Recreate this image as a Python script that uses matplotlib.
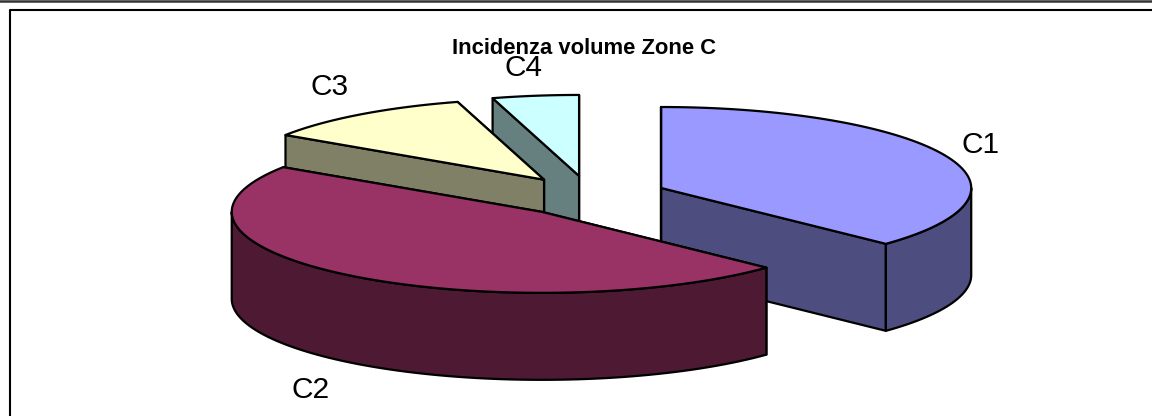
import numpy as np
import matplotlib
matplotlib.use("Agg")
import matplotlib.pyplot as plt
from matplotlib.patches import Polygon

plt.rcParams['font.family'] = ['Liberation Sans', 'DejaVu Sans']

# dati
labels = ["C1", "C2", "C3", "C4"]
values = [37.1, 47.2, 11.2, 4.5]
top_colors = ["#9999FF", "#993366", "#FFFFCC", "#CCFFFF"]
side_colors = ["#4D4D80", "#4D1933", "#808066", "#668080"]
title = "Incidenza volume Zone C"

# geometria in pixel
CX, CY = 590, 196
RX, RY = 310, 81
DEPTH = 87
EXPLODE = 0.25
LW = 1.6


def arc(cx, cy, t1, t2, n=80):
    t = np.radians(np.linspace(t1, t2, n))
    return np.column_stack([cx + RX * np.sin(t), cy - RY * np.cos(t)])


def draw_slice(ax, t1, t2, top, side, z):
    mid = np.radians((t1 + t2) / 2)
    cx = CX + EXPLODE * RX * np.sin(mid)
    cy = CY - EXPLODE * RY * np.cos(mid)
    apex = np.array([cx, cy])
    down = np.array([0, DEPTH])
    rim = arc(cx, cy, t1, t2)
    # pareti laterali, prima quella piu lontana
    for p in sorted((rim[0], rim[-1]), key=lambda q: q[1]):
        quad = [apex, p, p + down, apex + down]
        ax.add_patch(Polygon(quad, fc=side, ec="black", lw=LW, zorder=z, joinstyle="round"))
    a = max(t1, 90)
    b = min(t2, 270)
    if b > a:
        wall = arc(cx, cy, a, b)
        ax.add_patch(Polygon(np.vstack([wall, wall[::-1] + down]), fc=side, ec="black",
                             lw=LW, zorder=z, joinstyle="round"))
    ax.add_patch(Polygon(np.vstack([apex, rim]), fc=top, ec="black", lw=LW,
                         zorder=z + 0.5, joinstyle="round"))


fig = plt.figure(figsize=(11.52, 4.16), dpi=100)
ax = fig.add_axes([0, 0, 1, 1])
ax.set_xlim(0, 1152)
ax.set_ylim(416, 0)
ax.axis("off")

# cornice
ax.plot([0, 1152], [1, 1], color="#333333", lw=1.8, zorder=1)
ax.plot([10, 10, 1152], [416, 10, 10], color="black", lw=1.5, zorder=1)

edges = np.concatenate([[0], np.cumsum(values)]) / sum(values) * 360
# ordine di disegno: dal fondo verso il davanti
for z, i in enumerate([3, 2, 0, 1]):
    draw_slice(ax, edges[i], edges[i + 1], top_colors[i], side_colors[i], 2 + z)

ax.text(584, 49, title, ha="center", va="center", fontsize=15.8, fontweight="bold", zorder=10)
label_pos = [(981, 145), (311, 390), (330, 87), (523, 68)]
for lab, (x, y) in zip(labels, label_pos):
    ax.text(x, y, lab, ha="center", va="center", fontsize=21.5, zorder=10)

fig.savefig("out.png", dpi=100)
